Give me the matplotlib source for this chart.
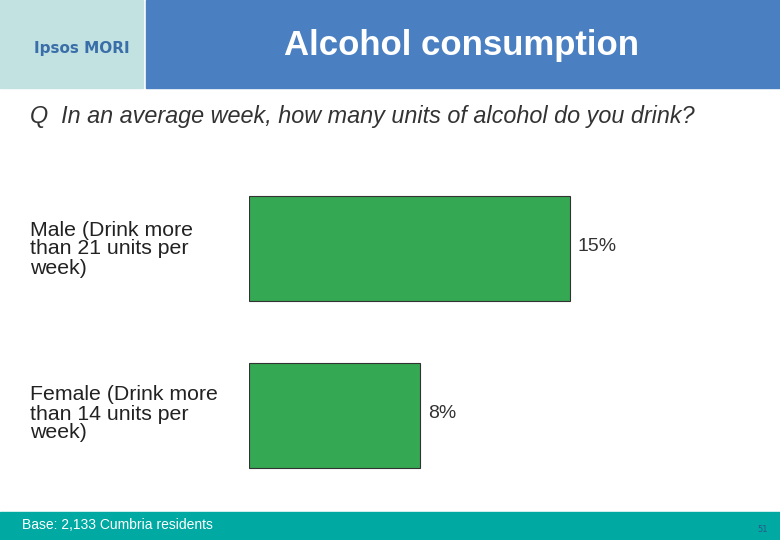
import matplotlib
matplotlib.use("Agg")
import matplotlib.pyplot as plt
from matplotlib.patches import Rectangle

categories = ["Male (Drink more\nthan 21 units per\nweek)", "Female (Drink more\nthan 14 units per\nweek)"]
values = [15, 8]
value_labels = ["15%", "8%"]

W, H = 780, 540
fig = plt.figure(figsize=(7.8, 5.4), dpi=100)
fig.patch.set_facecolor("white")

def px(x, y, w, h):
    return [x / W, 1 - (y + h) / H, w / W, h / H]

# header
fig.patches.append(Rectangle((0, 1 - 88 / H), 143 / W, 88 / H, transform=fig.transFigure, color="#c2e2e2"))
fig.patches.append(Rectangle((146 / W, 1 - 88 / H), 1, 88 / H, transform=fig.transFigure, color="#4a80c2"))
fig.text(82 / W, 1 - 49 / H, "Ipsos MORI", color="#3a6ea8", fontsize=11, fontweight="bold",
         ha="center", va="center", family="DejaVu Sans")
fig.text(461 / W, 1 - 46 / H, "Alcohol consumption", color="white", fontsize=25, fontweight="bold",
         ha="center", va="center", family="Liberation Sans")
fig.text(30 / W, 1 - 117 / H, "Q  In an average week, how many units of alcohol do you drink?",
         fontsize=16.8, style="italic", color="#333333", ha="left", va="center", family="Liberation Sans")

# footer
fig.patches.append(Rectangle((0, 0), 1, 28 / H, transform=fig.transFigure, color="#00a9a2"))
fig.text(22 / W, 15 / H, "Base: 2,133 Cumbria residents", fontsize=10, color="white",
         ha="left", va="center", family="Liberation Sans")
fig.text(768 / W, 10 / H, "51", fontsize=6, color="#2a5a8a", ha="right", va="center")

ax = fig.add_axes(px(249, 150, 531, 350))
ax.set_xlim(0, 531 / 21.43)
ax.set_ylim(1 + 85 / 166.5, -98.5 / 166.5)
ax.axis("off")
ys = list(range(len(values)))
ax.barh(ys, values, height=105 / 166.5, color="#35a853", edgecolor="#333333", linewidth=0.8)
for y, v, lab in zip(ys, values, value_labels):
    ax.text(v + 0.35, y - 0.01, lab, va="center", ha="left", fontsize=14, color="#333333", family="Liberation Sans")

centers = [249, 414]
for c, lab in zip(centers, categories):
    fig.text(30 / W, 1 - c / H, lab, fontsize=15.3, color="#222222", ha="left", va="center",
             family="Liberation Sans", linespacing=1.0)

fig.savefig("out.png", dpi=100)
